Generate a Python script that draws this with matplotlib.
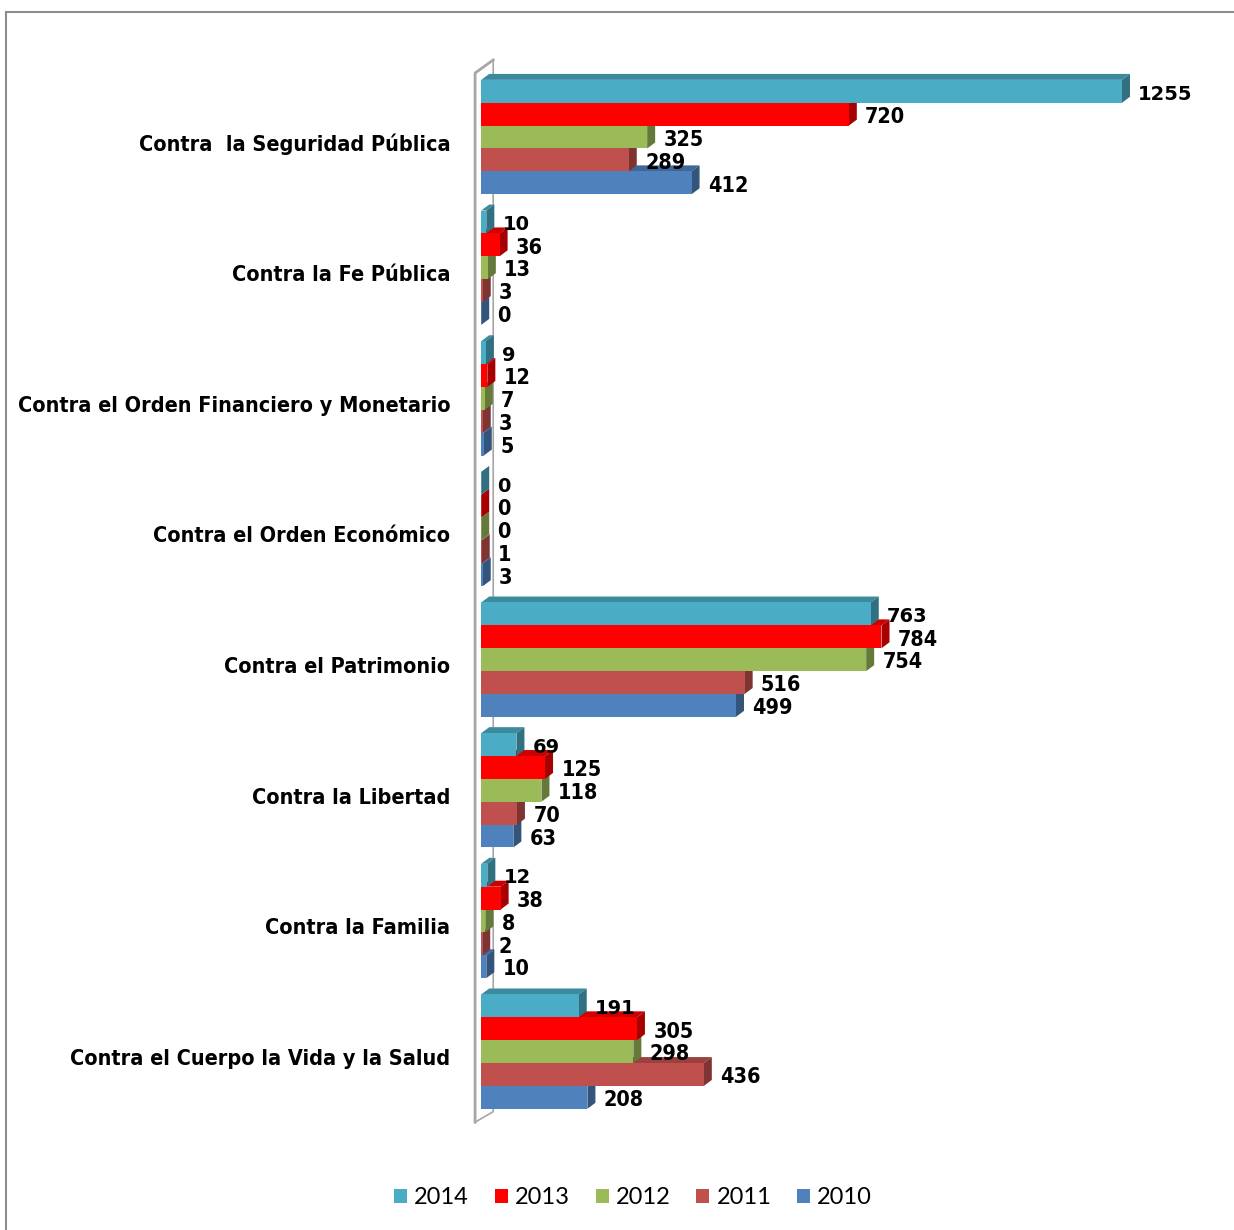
import matplotlib
matplotlib.use('Agg')
import matplotlib.pyplot as plt
from matplotlib.patches import Polygon, Rectangle
from matplotlib.colors import to_rgb

categories = ['Contra  la Seguridad Pública', 'Contra la Fe Pública',
              'Contra el Orden Financiero y Monetario', 'Contra el Orden Económico',
              'Contra el Patrimonio', 'Contra la Libertad', 'Contra la Familia',
              'Contra el Cuerpo la Vida y la Salud']
years = ['2014', '2013', '2012', '2011', '2010']
v2014 = [1255, 10, 9, 0, 763, 69, 12, 191]
v2013 = [720, 36, 12, 0, 784, 125, 38, 305]
v2012 = [325, 13, 7, 0, 754, 118, 8, 298]
v2011 = [289, 3, 3, 1, 516, 70, 2, 436]
v2010 = [412, 0, 5, 3, 499, 63, 10, 208]
series = [v2014, v2013, v2012, v2011, v2010]
colors = ['#4BACC6', '#FF0000', '#9BBB59', '#C0504D', '#4F81BD']

narrow = dict(family='DejaVu Sans', stretch='condensed', weight='bold')

fig = plt.figure(figsize=(12.34, 12.30), dpi=100)
fig.patches.append(Rectangle((6 / 1234, -0.2), 1.2, 1.2 - 12 / 1230, transform=fig.transFigure,
                             fill=False, edgecolor='#8c8c8c', lw=1.5))

xmin, xmax = -20, 1400
ylo, yhi = 7.6, -0.628
ax = fig.add_axes([471 / 1234, 1 - 1130 / 1230, 725 / 1234, 1075 / 1230])
ax.set_xlim(xmin, xmax)
ax.set_ylim(ylo, yhi)

pxx = 725 / (xmax - xmin)
pxy = 131.4
dx = 8 / pxx
dy = 6 / pxy
h = 23 / pxy


def darker(c, f):
    r, g, b = to_rgb(c)
    return (r * f, g * f, b * f)


for k, vals in enumerate(series):
    off = (k - 2) * h
    for i, v in enumerate(vals):
        yc = i + off
        top = yc - h / 2
        bot = yc + h / 2
        z = 10 - k
        ax.add_patch(Polygon([(0, top), (dx, top - dy), (v + dx, top - dy), (v, top)],
                             closed=True, facecolor=darker(colors[k], 0.8), edgecolor='none', zorder=z))
        ax.add_patch(Polygon([(v, top), (v + dx, top - dy), (v + dx, bot - dy), (v, bot)],
                             closed=True, facecolor=darker(colors[k], 0.65), edgecolor='none', zorder=z))
        ax.barh(yc, v, height=h, left=0, color=colors[k], zorder=z + 0.5)
        if k == 0:
            fp = dict(family='DejaVu Sans', weight='bold', size=14)
        else:
            fp = dict(narrow, size=15.5)
        ax.annotate(str(v), (v + dx, yc), xytext=(6, -2), textcoords='offset points',
                    ha='left', va='center', color='black', zorder=20, **fp)

# wall
wf = -12
wb = 23.5
ax.plot([wf, wf, wb], [7.54, -0.49, -0.59], color='#a6a6a6', lw=2, zorder=1, clip_on=False)
ax.plot([wf, wb, wb], [7.54, 7.46, -0.59], color='#a6a6a6', lw=1.2, zorder=1, clip_on=False)

ax.set_yticks([i + 0.04 for i in range(len(categories))])
ax.set_yticklabels(categories, size=15.5, **narrow)
ax.tick_params(axis='y', length=0, pad=15)
ax.set_xticks([])
for s in ax.spines.values():
    s.set_visible(False)

handles = [Rectangle((0, 0), 1, 1, facecolor=c) for c in colors]
fig.legend(handles, years, loc='center', bbox_to_anchor=(633 / 1234, 1 - 1198 / 1230),
           ncol=5, frameon=False, prop={'family': 'Lato', 'size': 17},
           handlelength=0.55, handleheight=0.55, handletextpad=0.3, columnspacing=1.1)

fig.savefig('out.png', dpi=100)
